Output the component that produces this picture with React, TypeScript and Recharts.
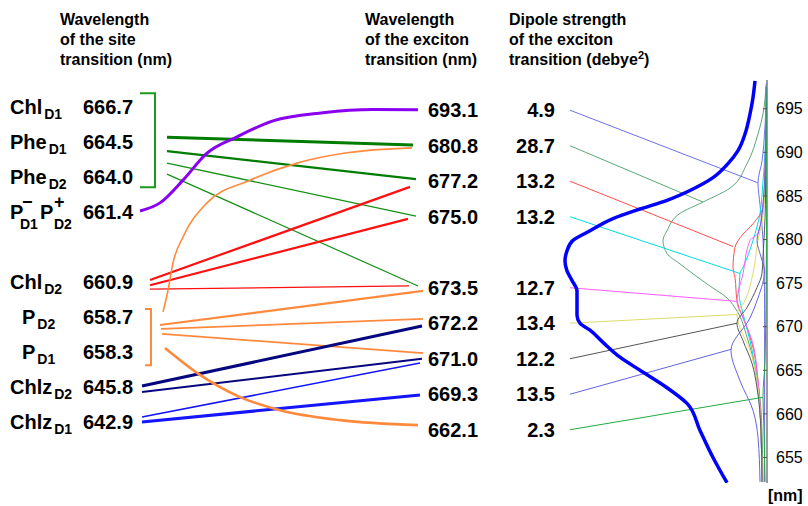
import React from 'react'
import { ScatterChart, Scatter, XAxis, YAxis } from 'recharts'

const FONT = '"Liberation Sans", Arial, Helvetica, sans-serif'
const W = 808
const H = 506

// ---- site transitions (left column) ----
const siteBase = ['Chl', 'Phe', 'Phe', 'P', 'Chl', 'P', 'P', 'Chlz', 'Chlz']
const siteSub = ['D1', 'D1', 'D2', 'D1', 'D2', 'D2', 'D1', 'D2', 'D1']
const siteNm = [666.7, 664.5, 664.0, 661.4, 660.9, 658.7, 658.3, 645.8, 642.9]
const siteRow = [0, 1, 2, 3, 5, 6, 7, 8, 9]

// ---- exciton transitions ----
const excitonNm = [693.1, 680.8, 677.2, 675.0, 673.5, 672.2, 671.0, 669.3, 662.1]
const dipole = [4.9, 28.7, 13.2, 13.2, 12.7, 13.4, 12.2, 13.5, 2.3]
const excitonRow = [0, 1, 2, 3, 5, 6, 7, 8, 9]

// ---- site -> exciton contributions (rows where lines leave / arrive) ----
const greenFrom = [0.76, 1.15, 1.49, 1.8]
const greenTo = [0.98, 1.94, 2.98, 4.95]
const redFrom = [4.78, 4.93, 5.04]
const redTo = [2.16, 3.06, 4.95]
const orangeFrom = [6.05, 6.16, 6.3]
const orangeTo = [5.09, 5.88, 6.84]
const navyFrom = [7.77, 7.94]
const navyTo = [6.08, 7.0]
const blueFrom = [8.64, 8.78]
const blueTo = [7.12, 8.02]

// curved contributions (column, row)
const purpleCol = [140, 160, 183, 207, 237, 273, 323, 373, 418]
const purpleRow = [2.84, 2.61, 1.97, 1.21, 0.75, 0.3, 0.07, -0.02, -0.01]
const orangeUpCol = [163, 168, 173, 183, 207, 250, 297, 347, 412]
const orangeUpRow = [5.68, 5.07, 4.3, 3.57, 2.61, 1.97, 1.49, 1.2, 1.06]
const orangeDownCol = [165, 197, 240, 280, 340, 418]
const orangeDownRow = [6.7, 7.4, 8.08, 8.45, 8.73, 8.87]

// ---- absorption spectrum (wavelength nm, absorbance a.u.) ----
const absWl = [698.2, 696.3, 694.4, 692.1, 690.2, 688.7, 687.1, 685.8, 684.5, 683.5, 682.4, 681.0, 679.9, 678.7, 677.5, 676.4, 675.3, 674.1, 672.6, 671.3, 670.4, 669.6, 668.2, 666.5, 665.0, 663.0, 661.2, 658.1, 655.0, 652.1]
const absVal = [0.06, 0.07, 0.085, 0.11, 0.145, 0.195, 0.27, 0.37, 0.5, 0.635, 0.77, 0.885, 0.97, 1.0, 1.01, 1.0, 0.975, 0.95, 0.95, 0.95, 0.935, 0.885, 0.82, 0.735, 0.635, 0.5, 0.4, 0.335, 0.27, 0.2]

// exciton bands [wavelength, absorbance]
const band1 = [[698, 0.0], [693, 0.01], [689, 0.025], [686.5, 0.045], [684, 0.035], [680, 0.02], [672, 0.012], [660, 0.012], [652.2, 0.012]]
const band2 = [[697.8, 0.005], [694.4, 0.02], [692.1, 0.045], [688.7, 0.1], [685.9, 0.185], [684.3, 0.32], [683, 0.435], [681, 0.5], [679.9, 0.52], [678.4, 0.5], [677.2, 0.435], [674.9, 0.3], [673.3, 0.2], [671.8, 0.15], [668.8, 0.1], [664.2, 0.05], [659.6, 0.028], [652.2, 0.02]]
const band3 = [[697.5, 0.003], [690, 0.008], [686, 0.012], [683.7, 0.02], [681.8, 0.07], [680.2, 0.135], [679.1, 0.16], [676.8, 0.17], [675.6, 0.16], [673, 0.15], [669.9, 0.1], [667.6, 0.07], [663.8, 0.045], [658, 0.03], [652.2, 0.025]]
const band4 = [[697.5, 0.003], [690, 0.01], [686.7, 0.02], [683, 0.035], [679.9, 0.07], [676.8, 0.12], [676.1, 0.135], [673.8, 0.14], [671.5, 0.12], [668.4, 0.085], [663.8, 0.05], [658, 0.03], [652.2, 0.025]]
const band5 = [[697.5, 0.003], [688, 0.01], [683, 0.025], [680.7, 0.045], [679.9, 0.085], [676.1, 0.12], [672.9, 0.15], [671, 0.12], [668.4, 0.075], [663.8, 0.045], [658, 0.03], [652.2, 0.025]]
const band6 = [[697.5, 0.003], [686, 0.01], [682, 0.025], [679.9, 0.045], [676.1, 0.07], [673, 0.11], [671.4, 0.15], [669.9, 0.135], [667.3, 0.085], [663.8, 0.05], [658, 0.03], [652.2, 0.025]]
const band7 = [[697.5, 0.003], [684, 0.008], [678, 0.02], [676.1, 0.025], [674.5, 0.05], [672.2, 0.1], [670.4, 0.15], [668.4, 0.12], [665.8, 0.075], [663, 0.05], [658, 0.03], [652.2, 0.025]]
const band8 = [[697.5, 0.003], [688, 0.01], [682, 0.03], [679.9, 0.05], [678, 0.03], [676.4, 0.012], [673.3, 0.045], [671, 0.085], [667.3, 0.18], [663.8, 0.135], [660.4, 0.07], [657.3, 0.045], [652.2, 0.035]]
const band9 = [[697.5, 0.0], [675, 0.004], [666, 0.01], [662, 0.02], [658, 0.015], [652.2, 0.01]]
const bands = [band1, band2, band3, band4, band5, band6, band7, band8, band9]
// point on each band where the dipole-strength line ends [wavelength, absorbance]
const dipoleTarget = [[686.5, 0.045], [684.3, 0.32], [679.2, 0.17], [676.1, 0.135], [672.9, 0.15], [671.4, 0.15], [670.4, 0.15], [667.4, 0.18], [661.9, 0.02]]
const wlTicks = [655, 660, 665, 670, 675, 680, 685, 690, 695]

// ---- layout ----
const PLOT_TOP = 80
const PLOT_BOTTOM = 483
const PLOT_RIGHT = 767
const ROW_MIN = -0.851
const ROW_MAX = 10.5
const WL_MIN = 652.07
const WL_MAX = 698.3
const ABS_MAX = 3.835
const COL = { name: 10, site: 83, exciton: 428, dipole: 555, dipoleLine: 0.985 }
const bandColors = ['#6f6fee', '#5aa878', '#ff4d4d', '#00dede', '#ff5cff', '#dcdc6a', '#555555', '#6464e0', '#22aa44']

const siteY = (i: number) => siteRow[i] * 0.985 - 0.09
const rowToWl = (r: number) => WL_MAX - ((r - ROW_MIN) / (ROW_MAX - ROW_MIN)) * (WL_MAX - WL_MIN)

const none = () => <g />

type Seg = { pts: { x: number; y: number }[]; color: string; w: number; curve?: string }

const links: Seg[] = [
  ...greenFrom.map((r, i) => ({
    pts: [{ x: 167, y: r }, { x: [413, 416, 416, 418][i], y: greenTo[i] }],
    color: i < 2 ? '#007d00' : '#159015',
    w: [3, 2.2, 1.3, 1.2][i],
  })),
  ...redFrom.map((r, i) => ({
    pts: [{ x: 150, y: r }, { x: [410, 408, 409][i], y: redTo[i] }],
    color: '#ff1010',
    w: [2.2, 2.2, 1.2][i],
  })),
  ...orangeFrom.map((r, i) => ({
    pts: [{ x: 160 + i, y: r }, { x: 423, y: orangeTo[i] }],
    color: '#ff8a3d',
    w: [2.2, 1.8, 1.8][i],
  })),
  ...navyFrom.map((r, i) => ({
    pts: [{ x: 142, y: r }, { x: 422, y: navyTo[i] }],
    color: '#06067e',
    w: [3, 2][i],
  })),
  ...blueFrom.map((r, i) => ({
    pts: [{ x: 142, y: r }, { x: 420, y: blueTo[i] }],
    color: '#1414ff',
    w: [1.6, 3][i],
  })),
]

const curves: Seg[] = [
  { pts: orangeUpCol.map((x, i) => ({ x, y: orangeUpRow[i] })), color: '#ff8a3d', w: 1.6, curve: 'monotoneX' },
  { pts: orangeDownCol.map((x, i) => ({ x, y: orangeDownRow[i] })), color: '#ff8a3d', w: 2.6, curve: 'monotoneX' },
  { pts: purpleCol.map((x, i) => ({ x, y: purpleRow[i] })), color: '#8a00f0', w: 3, curve: 'monotoneX' },
  { pts: [{ x: 140, y: -0.48 }, { x: 155, y: -0.48 }, { x: 155, y: 2.17 }, { x: 140, y: 2.17 }], color: '#1a9a1a', w: 2 },
  { pts: [{ x: 145, y: 5.6 }, { x: 151, y: 5.6 }, { x: 151, y: 7.18 }, { x: 145, y: 7.18 }], color: '#ff8a3d', w: 2 },
]

const bold = { fontFamily: FONT, fontWeight: 'bold' as const, fill: '#000' }

function SiteName(p: any) {
  const { cx, cy, payload } = p
  if (payload.pair) {
    return (
      <g>
        <text x={cx} y={cy + 7} fontSize={20} {...bold}>P</text>
        <text x={cx + 12} y={cy - 4} fontSize={18} {...bold}>−</text>
        <text x={cx + 10} y={cy + 17} fontSize={14} {...bold}>D1</text>
        <text x={cx + 30} y={cy + 7} fontSize={20} {...bold}>P</text>
        <text x={cx + 44} y={cy - 4} fontSize={18} {...bold}>+</text>
        <text x={cx + 44} y={cy + 17} fontSize={14} {...bold}>D2</text>
      </g>
    )
  }
  const indent = payload.base === 'P' ? 12 : 0
  return (
    <text x={cx + indent} y={cy + 7} fontSize={20} {...bold}>
      <tspan>{payload.base}</tspan>
      <tspan fontSize={14} dx={2} dy={5}>{payload.sub}</tspan>
    </text>
  )
}

function ValueText(p: any) {
  const { cx, cy, payload } = p
  return (
    <text x={cx} y={cy + 7} fontSize={20} textAnchor={payload.anchor} {...bold}>
      {payload.label}
    </text>
  )
}

// ticks of the wavelength axis point inwards, labels sit to the right
function WlTick(p: any) {
  const { x, y, payload } = p
  return (
    <g>
      <line x1={x - 13} x2={x - 9} y1={y} y2={y} stroke="#555" strokeWidth={1} />
      <text x={x} y={y} dy="0.355em" fontSize={16} fontFamily={FONT} fill="#000">
        {payload.value}
      </text>
    </g>
  )
}

const headerStyle: React.CSSProperties = {
  position: 'absolute',
  top: 10,
  fontFamily: FONT,
  fontWeight: 'bold',
  fontSize: 16,
  lineHeight: '20px',
  color: '#000',
  whiteSpace: 'nowrap',
}

export default function App() {
  const siteNameData = siteBase.map((b, i) => ({ x: COL.name, y: siteY(i), base: b, sub: siteSub[i], pair: i === 3 }))
  const siteValData = siteNm.map((v, i) => ({ x: COL.site, y: siteY(i), label: v.toFixed(1), anchor: 'start' }))
  const excData = excitonNm.map((v, i) => ({ x: COL.exciton, y: excitonRow[i], label: v.toFixed(1), anchor: 'start' }))
  const dipData = dipole.map((v, i) => ({ x: COL.dipole, y: excitonRow[i], label: v.toFixed(1), anchor: 'end' }))
  const absData = absWl.map((wl, i) => ({ x: absVal[i], y: wl }))

  return (
    <div style={{ position: 'absolute', left: 0, top: 0, width: W, height: H, background: '#fff' }}>
      <div style={{ ...headerStyle, left: 60 }}>
        Wavelength<br />of the site<br />transition (nm)
      </div>
      <div style={{ ...headerStyle, left: 365 }}>
        Wavelength<br />of the exciton<br />transition (nm)
      </div>
      <div style={{ ...headerStyle, left: 509 }}>
        Dipole strength<br />of the exciton<br />transition (debye
        <span style={{ fontSize: 11, position: 'relative', top: -6 }}>2</span>)
      </div>
      <div style={{ ...headerStyle, left: 768, top: 486 }}>[nm]</div>

      <ScatterChart
        width={W}
        height={H}
        margin={{ top: PLOT_TOP, right: 0, bottom: H - PLOT_BOTTOM, left: 0 }}
      >
        <XAxis xAxisId="col" type="number" dataKey="x" domain={[0, PLOT_RIGHT]} allowDataOverflow hide />
        <XAxis xAxisId="abs" type="number" dataKey="x" domain={[0, ABS_MAX]} reversed allowDataOverflow hide />
        <YAxis yAxisId="row" type="number" dataKey="y" domain={[ROW_MIN, ROW_MAX]} reversed allowDataOverflow hide />
        <YAxis
          yAxisId="wl"
          type="number"
          dataKey="y"
          orientation="right"
          domain={[WL_MIN, WL_MAX]}
          ticks={wlTicks}
          allowDataOverflow
          width={W - PLOT_RIGHT}
          tickSize={4}
          tickMargin={5}
          tickLine={false}
          stroke="#7a7a7a"
          strokeWidth={1.5}
          tick={WlTick}
        />

        {/* exciton bands and dipole-strength pointers */}
        {bands.map((b, i) => (
          <Scatter
            key={`band${i}`}
            xAxisId="abs"
            yAxisId="wl"
            data={b.map(([wl, a]) => ({ x: a, y: wl }))}
            line={{ stroke: bandColors[i], strokeWidth: 1 }}
            lineJointType="monotoneY"
            shape={none}
            fill={bandColors[i]}
            isAnimationActive={false}
          />
        ))}
        {dipoleTarget.map(([wl, a], i) => (
          <Scatter
            key={`dip${i}`}
            xAxisId="abs"
            yAxisId="wl"
            data={[
              { x: COL.dipoleLine, y: rowToWl(excitonRow[i]) },
              { x: a, y: wl },
            ]}
            line={{ stroke: bandColors[i], strokeWidth: 1 }}
            shape={none}
            fill={bandColors[i]}
            isAnimationActive={false}
          />
        ))}
        <Scatter
          xAxisId="abs"
          yAxisId="wl"
          data={absData}
          line={{ stroke: '#0000ff', strokeWidth: 3.5 }}
          lineJointType="monotoneY"
          shape={none}
          fill="#0000ff"
          isAnimationActive={false}
        />

        {/* site -> exciton lines */}
        {[...links, ...curves].map((s, i) => (
          <Scatter
            key={`seg${i}`}
            xAxisId="col"
            yAxisId="row"
            data={s.pts}
            line={{ stroke: s.color, strokeWidth: s.w }}
            lineJointType={(s.curve || 'linear') as any}
            shape={none}
            fill={s.color}
            isAnimationActive={false}
          />
        ))}

        {/* labels */}
        <Scatter xAxisId="col" yAxisId="row" data={siteNameData} shape={SiteName} isAnimationActive={false} />
        <Scatter xAxisId="col" yAxisId="row" data={siteValData} shape={ValueText} isAnimationActive={false} />
        <Scatter xAxisId="col" yAxisId="row" data={excData} shape={ValueText} isAnimationActive={false} />
        <Scatter xAxisId="col" yAxisId="row" data={dipData} shape={ValueText} isAnimationActive={false} />
      </ScatterChart>
    </div>
  )
}
